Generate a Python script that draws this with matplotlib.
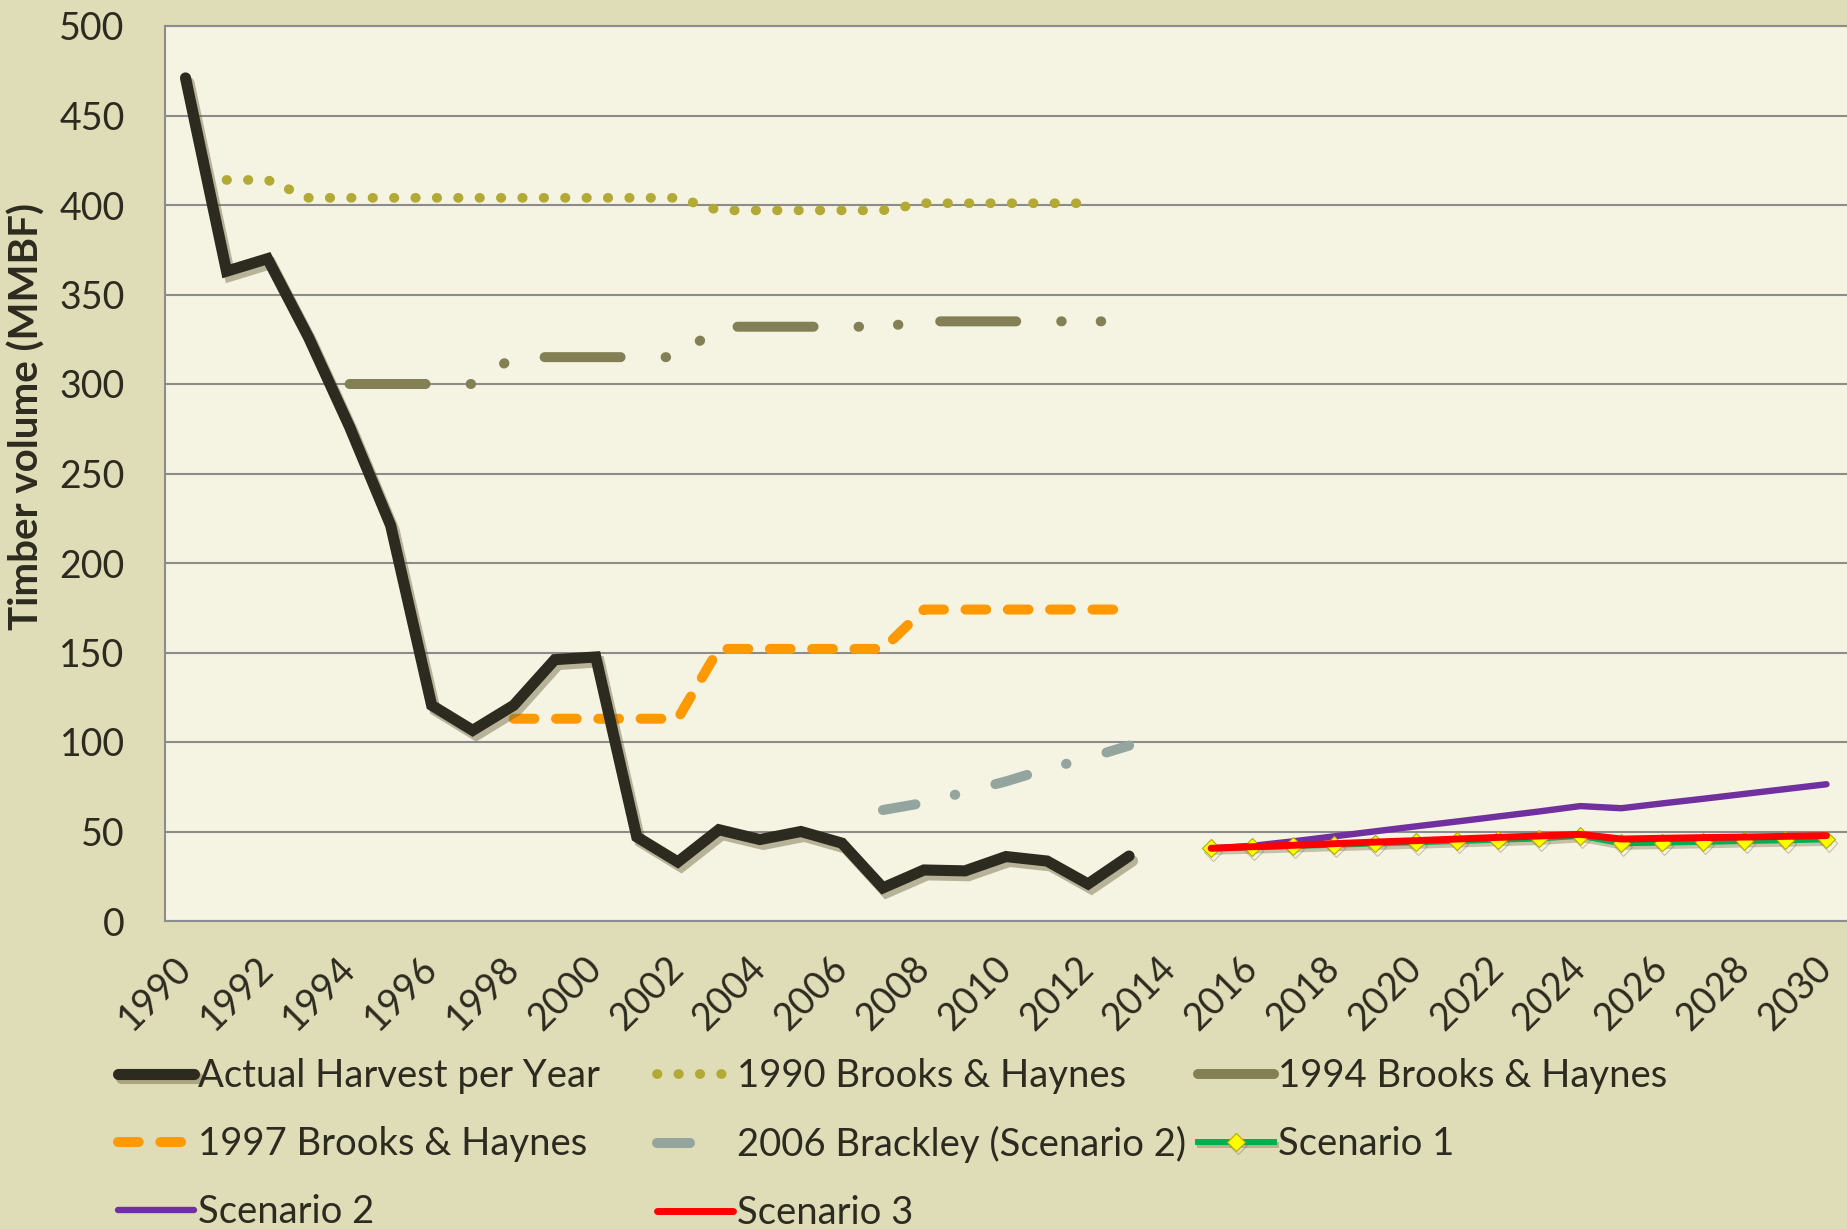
import matplotlib
matplotlib.use('Agg')
import matplotlib.pyplot as plt
import matplotlib.patheffects as pe
import matplotlib.transforms as mtrans
from matplotlib.lines import Line2D

# ---- data ----
actual_years = list(range(1990, 2014))
actual = [471, 363, 370, 326, 276, 221, 120.5, 106.5, 120.5, 146, 147.5, 47,
          33, 51, 45.5, 50, 43.5, 18.5, 28.5, 28, 36, 33.5, 20.7, 36.3]

bh1990_years = list(range(1991, 2013))
bh1990 = [414, 414, 404, 404, 404, 404, 404, 404, 404, 404, 404, 404,
          397, 397, 397, 397, 397, 401, 401, 401, 401, 401]

bh1994_years = list(range(1994, 2014))
bh1994 = [300, 300, 300, 300, 315, 315, 315, 315, 315,
          332, 332, 332, 332, 332, 335, 335, 335, 335, 335, 335]

bh1997_years = list(range(1998, 2014))
bh1997 = [113, 113, 113, 113, 113, 152, 152, 152, 152, 152,
          174, 174, 174, 174, 174, 174]

brackley_years = list(range(2007, 2014))
brackley = [62, 66, 72, 78, 85, 91, 98]

scen_years = list(range(2015, 2031))
scen1 = [40.6, 41.2, 41.9, 42.6, 43.3, 44.0, 44.7, 45.4, 46.1, 47.6,
         43.4, 43.8, 44.2, 44.7, 45.1, 45.6]
scen2 = [40.6, 42.0, 44.5, 47.3, 50.1, 52.9, 55.6, 58.4, 61.2, 64.2,
         63.0, 65.7, 68.3, 71.0, 73.7, 76.4]
scen3 = [40.6, 41.5, 42.3, 43.2, 44.1, 44.9, 45.8, 46.7, 47.5, 48.4,
         45.8, 46.2, 46.6, 46.9, 47.3, 47.7]

tick_years = list(range(1990, 2031, 2))
yticks = list(range(0, 501, 50))

# ---- style ----
plt.rcParams['font.family'] = ['Lato', 'DejaVu Sans']
TXT = '#2d2a1f'
FS = 27
LEG_FS = 27.5
BG = '#dfdcb8'
PLOT_BG = '#f5f4e2'
GRID = '#8c8c8c'

fig = plt.figure(figsize=(18.47, 12.29), dpi=100, facecolor=BG)
W, H = 1847, 1229
ax = fig.add_axes([165 / W, 1 - 921 / H, (W - 165) / W, (921 - 26) / H])
ax.set_facecolor(PLOT_BG)

shadow = [pe.SimpleLineShadow(offset=(2.5, -3.5), shadow_color='#6d6440', alpha=0.45),
          pe.Normal()]
mshadow = [pe.SimpleLineShadow(offset=(1.5, -2.5), shadow_color='#6d6440', alpha=0.35),
           pe.Normal()]

l_b1990, = ax.plot(bh1990_years, bh1990, color='#b3aa36', lw=7,
                   dashes=(0.05, 2.15), dash_capstyle='round',
                   label='1990 Brooks & Haynes')
l_b1994, = ax.plot(bh1994_years, bh1994, color='#848055', lw=7.2,
                   dashes=(7.6, 4.5, 0.05, 3.9, 0.05, 4.2), dash_capstyle='round',
                   label='1994 Brooks & Haynes')
l_b1997, = ax.plot(bh1997_years, bh1997, color='#ff9900', lw=7.2,
                   dashes=(2.07, 2.16), dash_capstyle='round',
                   label='1997 Brooks & Haynes')
l_brack, = ax.plot(brackley_years, brackley, color='#94a5a0', lw=7.2,
                   dashes=(3.3, 4.05, 0.05, 4.15), dash_capstyle='round',
                   label='2006 Brackley (Scenario 2)')
l_act, = ax.plot(actual_years, actual, color=TXT, lw=8, solid_capstyle='round',
                 solid_joinstyle='miter', path_effects=shadow,
                 label='Actual Harvest per Year')
l_s2, = ax.plot(scen_years, scen2, color='#7030a0', lw=4.6, solid_capstyle='round',
                label='Scenario 2')
l_s1, = ax.plot(scen_years, scen1, color='#00b050', lw=4.3, marker='D', ms=9,
                mfc='#ffff00', mec='#b8a800', mew=0.8, path_effects=mshadow,
                label='Scenario 1')
l_s3, = ax.plot(scen_years, scen3, color='#ff0000', lw=5, solid_capstyle='round',
                label='Scenario 3')

# legend proxy for the Brackley line (only the dash shows in the key)
h_brack = Line2D([], [], color='#94a5a0', lw=7.2, dashes=(3.3, 10),
                 dash_capstyle='round', label='2006 Brackley (Scenario 2)')

ax.set_xlim(1989.5, 2030.5)
ax.set_ylim(0, 500)
ax.set_yticks(yticks)
ax.set_xticks(tick_years)
ax.set_xticklabels([str(y) for y in tick_years], rotation=45, ha='right',
                   va='center', rotation_mode='anchor')
off = mtrans.ScaledTranslation(8 / 100, 0, fig.dpi_scale_trans)
for lab in ax.get_xticklabels():
    lab.set_transform(lab.get_transform() + off)
ax.tick_params(axis='x', length=0, pad=30, labelsize=FS, labelcolor=TXT)
ax.tick_params(axis='y', length=0, pad=29, labelsize=FS, labelcolor=TXT)
ax.grid(axis='y', color=GRID, lw=1.5)
ax.set_axisbelow(True)
ax.spines['right'].set_visible(False)
for s in ['left', 'bottom', 'top']:
    ax.spines[s].set_color(GRID)
    ax.spines[s].set_linewidth(1.5)

fig.text(27 / W, 1 - 416 / H, 'Timber volume (MMBF)', rotation=90, ha='center',
         va='center', fontsize=29, fontweight='bold', color=TXT)

# ---- legend, three columns placed like the original ----
cols = [([l_act, l_b1997, l_s2], 118),
        ([l_b1990, h_brack, l_s3], 657),
        ([l_b1994, l_s1], 1198)]
for hs, x0 in cols:
    leg = fig.legend(handles=hs, labels=[h.get_label() for h in hs],
                     loc='upper left', bbox_to_anchor=(x0 / W, 1 - 1058 / H),
                     bbox_transform=fig.transFigure, frameon=False, fontsize=LEG_FS,
                     handlelength=2.0, handletextpad=0.1, labelspacing=0.84,
                     borderpad=0, borderaxespad=0)
    for t in leg.get_texts():
        t.set_color(TXT)

fig.savefig('out.png', dpi=100, facecolor=BG)
